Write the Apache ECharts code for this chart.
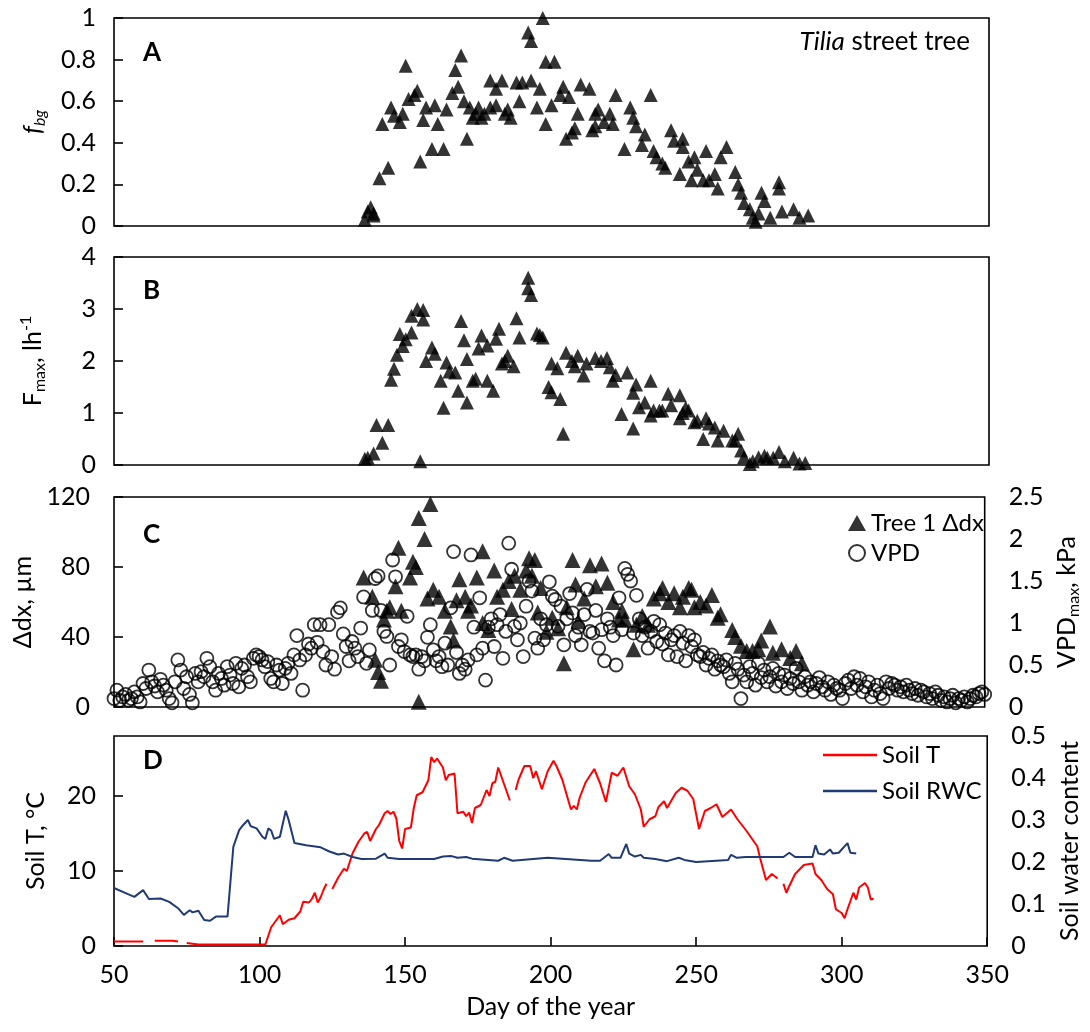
<!DOCTYPE html>
<html><head><meta charset="utf-8">
<script src="https://cdn.jsdelivr.net/npm/echarts@6/dist/echarts.min.js"></script>
<style>html,body{margin:0;padding:0;background:#fff}#c{width:1090px;height:1032px}</style>
</head><body><div id="c"></div>
<script>
// ---------- Panel A: f_bg ----------
const fbgDays = [136,137,138,139,139,141,144,142,145,146,148,149,150,151,153,154,155,156,157,159,160,161,163,164,166,167,168,169,170,171,172,173,174,175,176,177,179,179,181,181,183,184,185,186,188,189,190,192,193,193,195,196,197,198,198,200,201,203,204,205,206,207,208,209,210,213,214,215,215,216,218,220,221,222,225,227,228,229,231,232,234,235,236,238,239,241,242,244,245,245,247,248,249,250,252,253,254,256,257,258,260,263,264,265,266,268,269,270,271,272,273,275,278,278,279,283,285,288];
const fbgValues = [0.03,0.07,0.09,0.06,0.05,0.23,0.28,0.49,0.57,0.53,0.50,0.54,0.77,0.61,0.63,0.65,0.31,0.51,0.57,0.37,0.58,0.49,0.37,0.56,0.64,0.75,0.67,0.82,0.60,0.42,0.57,0.52,0.54,0.57,0.52,0.54,0.57,0.70,0.66,0.58,0.70,0.54,0.56,0.52,0.69,0.60,0.69,0.93,0.89,0.70,0.57,0.66,1.00,0.79,0.49,0.58,0.79,0.63,0.67,0.42,0.62,0.45,0.47,0.54,0.68,0.66,0.46,0.54,0.48,0.56,0.50,0.54,0.49,0.63,0.37,0.57,0.52,0.48,0.39,0.44,0.63,0.36,0.33,0.30,0.28,0.46,0.41,0.25,0.42,0.38,0.31,0.22,0.33,0.27,0.22,0.36,0.22,0.25,0.18,0.33,0.38,0.26,0.20,0.16,0.11,0.08,0.04,0.02,0.06,0.16,0.12,0.04,0.21,0.18,0.07,0.08,0.04,0.05];

// ---------- Panel B: F_max ----------
const fmaxDays = [136,137,139,140,142,144,145,146,147,148,149,150,152,152,154,155,156,156,157,159,160,162,163,164,165,167,168,169,170,171,171,173,174,175,176,178,178,180,181,182,183,184,185,187,188,189,192,192,193,195,196,197,199,200,200,202,203,204,205,207,208,209,211,212,215,217,219,220,221,222,224,226,228,228,229,230,232,234,234,235,237,238,240,241,244,244,245,246,247,249,250,252,253,254,256,257,259,262,263,264,265,266,268,269,271,273,274,276,278,280,283,285,287];
const fmaxValues = [0.12,0.14,0.22,0.77,0.43,0.77,1.64,1.85,2.12,2.52,2.29,2.42,2.55,2.87,3.0,0.07,2.98,2.8,2.0,2.26,2.14,1.62,1.1,1.97,1.8,1.78,1.43,2.77,2.4,1.2,2.04,1.62,1.66,2.24,2.49,1.62,2.3,1.43,2.43,2.62,1.95,2.0,2.1,1.9,2.82,2.45,3.4,3.6,3.27,2.53,2.5,2.45,1.5,1.4,1.95,1.86,1.27,0.6,2.16,2.0,1.9,2.1,1.72,1.95,2.06,2.0,2.06,1.88,1.62,1.73,0.98,1.78,1.39,0.7,1.55,1.11,1.2,1.62,0.95,1.05,1.05,1.05,1.37,1.15,1.34,0.9,1.0,1.1,1.05,0.82,0.85,0.5,0.9,0.8,0.72,0.47,0.66,0.47,0.47,0.6,0.28,0.15,0.02,0.07,0.15,0.18,0.14,0.14,0.25,0.07,0.14,0.03,0.04];

// ---------- Panel C: Tree 1 delta dx (um) ----------
const dxDays = [136,139,140,141,142,143,144,145,147,148,149,152,153,154,155,155,157,158,159,160,162,164,166,167,168,169,171,172,173,175,177,177,179,181,182,184,186,187,188,190,192,193,194,195,196,197,199,201,203,205,206,208,209,210,212,214,216,218,220,222,224,225,226,229,230,232,234,236,238,239,241,243,245,246,248,249,250,252,254,256,258,259,263,264,266,268,270,272,273,276,277,280,283,285,287];
const dxValues = [74,63,27,20,15,50,55,57,69,91,55,74,83,80,108,3,96,62,116,67,63,55,46,38,61,73,63,55,58,74,89,48,44,78,63,67,72,56,75,67,78,85,75,84,54,68,43,51,45,25,57,84,70,49,62,81,69,82,71,60,50,55,50,33,47,52,47,62,65,68,60,65,57,63,68,67,57,60,58,64,51,53,44,40,35,32,32,33,38,46,31,33,28,32,25];

// ---------- Panel C: VPD max (kPa), one value per day from vpdStartDay ----------
const vpdStartDay = 50;
const vpdValues = [
0.10,0.20,0.08,0.12,0.15,0.08,0.10,0.18,0.12,0.06,
0.28,0.22,0.44,0.30,0.25,0.18,0.33,0.26,0.20,0.10,
0.05,0.30,0.56,0.44,0.22,0.36,0.15,0.05,0.40,0.30,
0.42,0.36,0.58,0.48,0.30,0.20,0.40,0.34,0.26,0.48,
0.38,0.28,0.52,0.24,0.46,0.50,0.36,0.30,0.58,0.62,
0.60,0.56,0.48,0.54,0.34,0.30,0.50,0.44,0.28,0.46,
0.52,0.40,0.62,0.85,0.56,0.20,0.62,0.75,0.70,0.98,
0.77,0.98,0.66,0.50,0.98,0.60,0.45,1.13,1.18,0.87,
0.72,0.55,0.78,0.70,0.60,0.94,1.31,0.52,0.68,1.15,
1.53,1.56,1.15,0.90,0.84,0.50,1.75,1.55,0.72,0.80,
0.66,1.08,0.62,0.60,0.62,0.45,0.60,0.55,0.83,0.98,
0.68,0.55,0.60,0.48,0.76,0.50,1.18,1.85,0.65,0.40,
0.50,0.45,0.56,1.81,0.95,0.62,1.30,0.70,0.32,0.95,
1.05,0.72,0.98,1.10,0.58,0.90,1.95,1.64,0.96,0.80,
1.00,0.60,1.20,1.50,1.38,0.82,0.70,1.05,0.80,0.98,
1.49,1.32,1.28,0.96,1.20,0.74,1.05,1.35,1.12,0.85,
0.95,0.74,1.10,1.40,0.90,0.88,1.15,0.70,0.92,0.55,
1.05,0.95,0.85,0.50,1.30,0.92,1.65,1.58,1.50,0.88,
1.33,1.05,0.85,0.95,0.70,0.90,1.02,0.78,0.98,0.75,
0.88,0.62,0.80,0.85,0.60,0.90,0.76,0.55,0.85,0.72,
0.80,0.62,0.60,0.65,0.50,0.58,0.62,0.45,0.55,0.50,
0.48,0.56,0.40,0.30,0.52,0.45,0.10,0.38,0.30,0.48,
0.40,0.26,0.52,0.35,0.44,0.30,0.36,0.46,0.25,0.40,
0.30,0.38,0.22,0.34,0.28,0.46,0.30,0.20,0.36,0.26,
0.30,0.18,0.28,0.35,0.24,0.20,0.30,0.15,0.26,0.22,
0.20,0.10,0.28,0.32,0.22,0.36,0.26,0.34,0.18,0.24,
0.30,0.12,0.20,0.26,0.16,0.10,0.30,0.22,0.28,0.26,
0.20,0.24,0.18,0.26,0.20,0.16,0.22,0.14,0.20,0.18,
0.12,0.16,0.10,0.18,0.14,0.08,0.12,0.06,0.10,0.14,
0.05,0.10,0.08,0.12,0.06,0.10,0.14,0.12,0.16,0.18,
0.15];

// ---------- Panel D: soil temperature (C), null = gap ----------
const soilTDays = [50,52,54,56,58,60,62,64,66,68,70,72,73,75,77,79,82,86,90,94,98,102,104,107,108,110,112,114,115,117,118,119,120,121,122,123,124,125,127,128,129,130,131,132,134,136,137,138,140,141,143,144,145,146,147,148,149,150,152,153,154,156,158,159,160,161,163,164,165,167,168,170,171,172,173,174,176,178,179,180,181,182,184,186,187,188,189,191,193,194,195,197,199,201,202,204,207,208,209,210,212,215,217,219,221,223,225,227,229,231,232,234,236,237,239,240,243,245,247,249,251,253,255,257,259,262,264,267,269,271,272,274,276,278,279,280,281,282,284,287,290,291,293,295,297,298,300,301,302,304,305,306,308,309,310,311];
const soilTValues = [0.6,0.6,0.6,0.6,0.6,0.6,null,0.7,0.7,0.7,0.7,0.6,null,0.4,0.3,0.2,0.2,0.2,0.2,0.2,0.2,0.2,2.5,4.1,2.9,3.5,3.7,4.6,5.9,5.8,6.3,7.1,5.8,6.5,7.5,8.3,null,7.6,9.1,9.7,10.3,10.0,11.2,12.4,13.9,15.0,15.2,14.0,15.6,16.1,17.7,18.0,17.6,17.9,17.0,14.0,13.0,15.6,15.8,18.4,20.1,20.5,22.1,25.2,24.5,25.0,23.8,22.1,22.8,23.0,17.7,17.9,17.3,17.8,16.4,18.4,18.8,20.8,20.0,21.7,21.9,23.8,21.6,19.4,null,20.8,22.2,24.0,24.0,22.4,23.3,20.9,23.3,24.7,24.0,22.2,18.2,18.7,18.2,19.8,21.8,23.6,21.7,19.2,23.1,22.7,23.8,21.3,20.2,18.2,15.9,16.9,17.3,18.5,19.3,18.4,20.4,21.1,20.7,19.6,15.6,18.0,18.4,18.9,17.2,18.2,17.0,15.5,14.4,13.3,11.7,8.8,9.6,9.0,null,8.3,7.1,8.0,9.6,10.8,11.0,9.6,8.8,7.6,6.9,4.9,4.4,3.7,4.9,7.1,6.2,7.8,8.4,7.8,6.2,6.3];

// ---------- Panel D: soil relative water content ----------
const rwcDays = [50,54,57,60,62,66,69,72,74,76,77,79,81,83,85,89,91,93,94,96,97,99,101,102,103,104,105,107,109,110,112,116,121,124,127,129,132,135,140,143,144,148,160,163,166,168,171,173,182,184,187,199,214,217,220,221,224,226,227,229,231,232,236,240,244,246,250,261,262,264,267,280,282,284,290,291,292,294,296,297,299,302,303,305];
const rwcValues = [0.138,0.126,0.117,0.133,0.112,0.113,0.105,0.090,0.074,0.085,0.080,0.084,0.062,0.060,0.070,0.070,0.236,0.276,0.285,0.300,0.285,0.280,0.260,0.255,0.280,0.275,0.255,0.260,0.322,0.300,0.245,0.240,0.235,0.225,0.218,0.220,0.212,0.207,0.208,0.220,0.210,0.207,0.207,0.213,0.214,0.210,0.212,0.208,0.203,0.210,0.203,0.210,0.203,0.203,0.219,0.210,0.210,0.243,0.220,0.213,0.217,0.210,0.207,0.202,0.210,0.205,0.200,0.205,0.217,0.210,0.212,0.212,0.222,0.212,0.212,0.240,0.220,0.218,0.230,0.220,0.222,0.245,0.222,0.220];

// ---------- axis tick labels ----------
const dayTicks = [50,100,150,200,250,300,350];

const FONT = 'Lato';
const zip = (a, b) => a.map((d, i) => [d, b[i]]);
const vpdData = vpdValues.map((v, i) => [vpdStartDay + i, v]);

const chart = echarts.init(document.getElementById('c'), null, {renderer: 'canvas'});

const L = 114, W = 875;
const tops = [18, 257, 497, 736];
const heights = [208, 208, 210, 210];
const grids = tops.map((t, i) => ({left: L, width: W, top: t, height: heights[i], show: true, borderColor: '#000', borderWidth: 1.6, backgroundColor: 'transparent'}));

const labelStyle = {color: '#000', fontSize: 25, fontFamily: FONT};
function xAx(i, last) {
  return {
    gridIndex: i, type: 'value', min: 50, max: 350, interval: 50,
    axisLine: {show: false},
    axisTick: last ? {show: true, inside: true, length: 9, lineStyle: {color: '#000', width: 1.6}} : {show: false},
    axisLabel: last ? Object.assign({show: true, margin: 16}, labelStyle) : {show: false},
    splitLine: {show: false},
    name: last ? 'Day of the year' : '',
    nameLocation: 'middle', nameGap: 48,
    nameTextStyle: {color: '#000', fontSize: 25, fontFamily: FONT}
  };
}
function yAx(i, min, max, interval, name, rich, opts) {
  const right = opts && opts.right;
  const margin = (opts && opts.margin) || 18;
  return {
    gridIndex: i, type: 'value', min: min, max: max, interval: interval,
    position: right ? 'right' : 'left',
    axisLine: {show: false},
    axisTick: right ? {show: false} : {show: true, inside: true, length: 9, lineStyle: {color: '#000', width: 1.6}},
    axisLabel: Object.assign({margin: margin, showMaxLabel: !(opts && opts.hideMax)}, labelStyle),
    splitLine: {show: false},
    name: name, nameLocation: 'middle', nameRotate: 90, nameGap: (opts && opts.nameGap) || (right ? 62 : 66),
    nameTextStyle: {color: '#000', fontSize: 25, fontFamily: FONT, rich: rich || {}}
  };
}

const subStyle = {fontSize: 16, fontFamily: FONT, color: '#000', verticalAlign: 'bottom', lineHeight: 30};
const supStyle = {fontSize: 16, fontFamily: FONT, color: '#000', verticalAlign: 'top', lineHeight: 30};
const baseStyle = {fontSize: 25, fontFamily: FONT, color: '#000', lineHeight: 30};

const option = {
  animation: false,
  backgroundColor: '#fff',
  grid: grids,
  xAxis: [xAx(0, false), xAx(1, false), xAx(2, false), xAx(3, true)],
  yAxis: [
    yAx(0, 0, 1, 0.2, '{fi|f}{fs|bg}', {fi: Object.assign({}, baseStyle, {fontStyle: 'italic'}), fs: Object.assign({}, subStyle, {fontStyle: 'italic'})}),
    yAx(1, 0, 4, 1, '{b|F}{s|max}{b|, lh}{p|-1}', {b: baseStyle, s: subStyle, p: supStyle}),
    yAx(2, 0, 120, 40, 'Δdx, µm', null, {margin: 24}),
    yAx(2, 0, 2.5, 0.5, '{b|VPD}{s|max}{b|, kPa}', {b: baseStyle, s: subStyle}, {right: true, margin: 24}),
    yAx(3, 0, 28, 10, 'Soil T, °C', null, {hideMax: true}),
    yAx(3, 0, 0.5, 0.1, 'Soil water content', null, {right: true, margin: 24})
  ],
  legend: [
    {data: ['Tree 1 Δdx', 'VPD'], orient: 'vertical', left: 843, top: 506, itemWidth: 18, itemHeight: 16, itemGap: 6,
     textStyle: {color: '#000', fontSize: 24, fontFamily: FONT}, selectedMode: false},
    {data: [{name: 'Soil T', icon: 'rect'}, {name: 'Soil RWC', icon: 'rect'}], orient: 'vertical', left: 818, top: 738,
     itemWidth: 54, itemHeight: 2.5, itemGap: 12,
     textStyle: {color: '#000', fontSize: 24, fontFamily: FONT}, selectedMode: false}
  ],
  graphic: [
    {type: 'text', left: 143, top: 40, style: {text: 'A', font: 'bold 26px ' + FONT, fill: '#000'}},
    {type: 'text', left: 143, top: 278, style: {text: 'B', font: 'bold 26px ' + FONT, fill: '#000'}},
    {type: 'text', left: 143, top: 522, style: {text: 'C', font: 'bold 26px ' + FONT, fill: '#000'}},
    {type: 'text', left: 143, top: 748, style: {text: 'D', font: 'bold 26px ' + FONT, fill: '#000'}},
    {type: 'text', right: 120, top: 29, style: {text: '{i|Tilia} street tree', fill: '#000', font: '26px ' + FONT,
      rich: {i: {fontStyle: 'italic', fontSize: 26, fontFamily: FONT, fill: '#000'}}}}
  ],
  series: [
    {name: 'fbg', type: 'scatter', xAxisIndex: 0, yAxisIndex: 0, symbol: 'triangle', symbolSize: 14,
     itemStyle: {color: '#000'}, data: zip(fbgDays, fbgValues)},
    {name: 'Fmax', type: 'scatter', xAxisIndex: 1, yAxisIndex: 1, symbol: 'triangle', symbolSize: 14,
     itemStyle: {color: '#000'}, data: zip(fmaxDays, fmaxValues)},
    {name: 'Tree 1 Δdx', type: 'scatter', xAxisIndex: 2, yAxisIndex: 2, symbol: 'triangle', symbolSize: 16,
     itemStyle: {color: '#000'}, data: zip(dxDays, dxValues)},
    {name: 'VPD', type: 'scatter', xAxisIndex: 2, yAxisIndex: 3, symbol: 'circle', symbolSize: 13,
     itemStyle: {color: 'rgba(255,255,255,0)', borderColor: '#000', borderWidth: 1.8}, data: vpdData},
    {name: 'Soil T', type: 'line', xAxisIndex: 3, yAxisIndex: 4, symbol: 'none', connectNulls: false,
     lineStyle: {color: '#ff0000', width: 2}, itemStyle: {color: '#ff0000'}, data: zip(soilTDays, soilTValues)},
    {name: 'Soil RWC', type: 'line', xAxisIndex: 3, yAxisIndex: 5, symbol: 'none',
     lineStyle: {color: '#1f3a75', width: 2}, itemStyle: {color: '#1f3a75'}, data: zip(rwcDays, rwcValues)}
  ]
};
chart.setOption(option);
</script>
</body></html>
